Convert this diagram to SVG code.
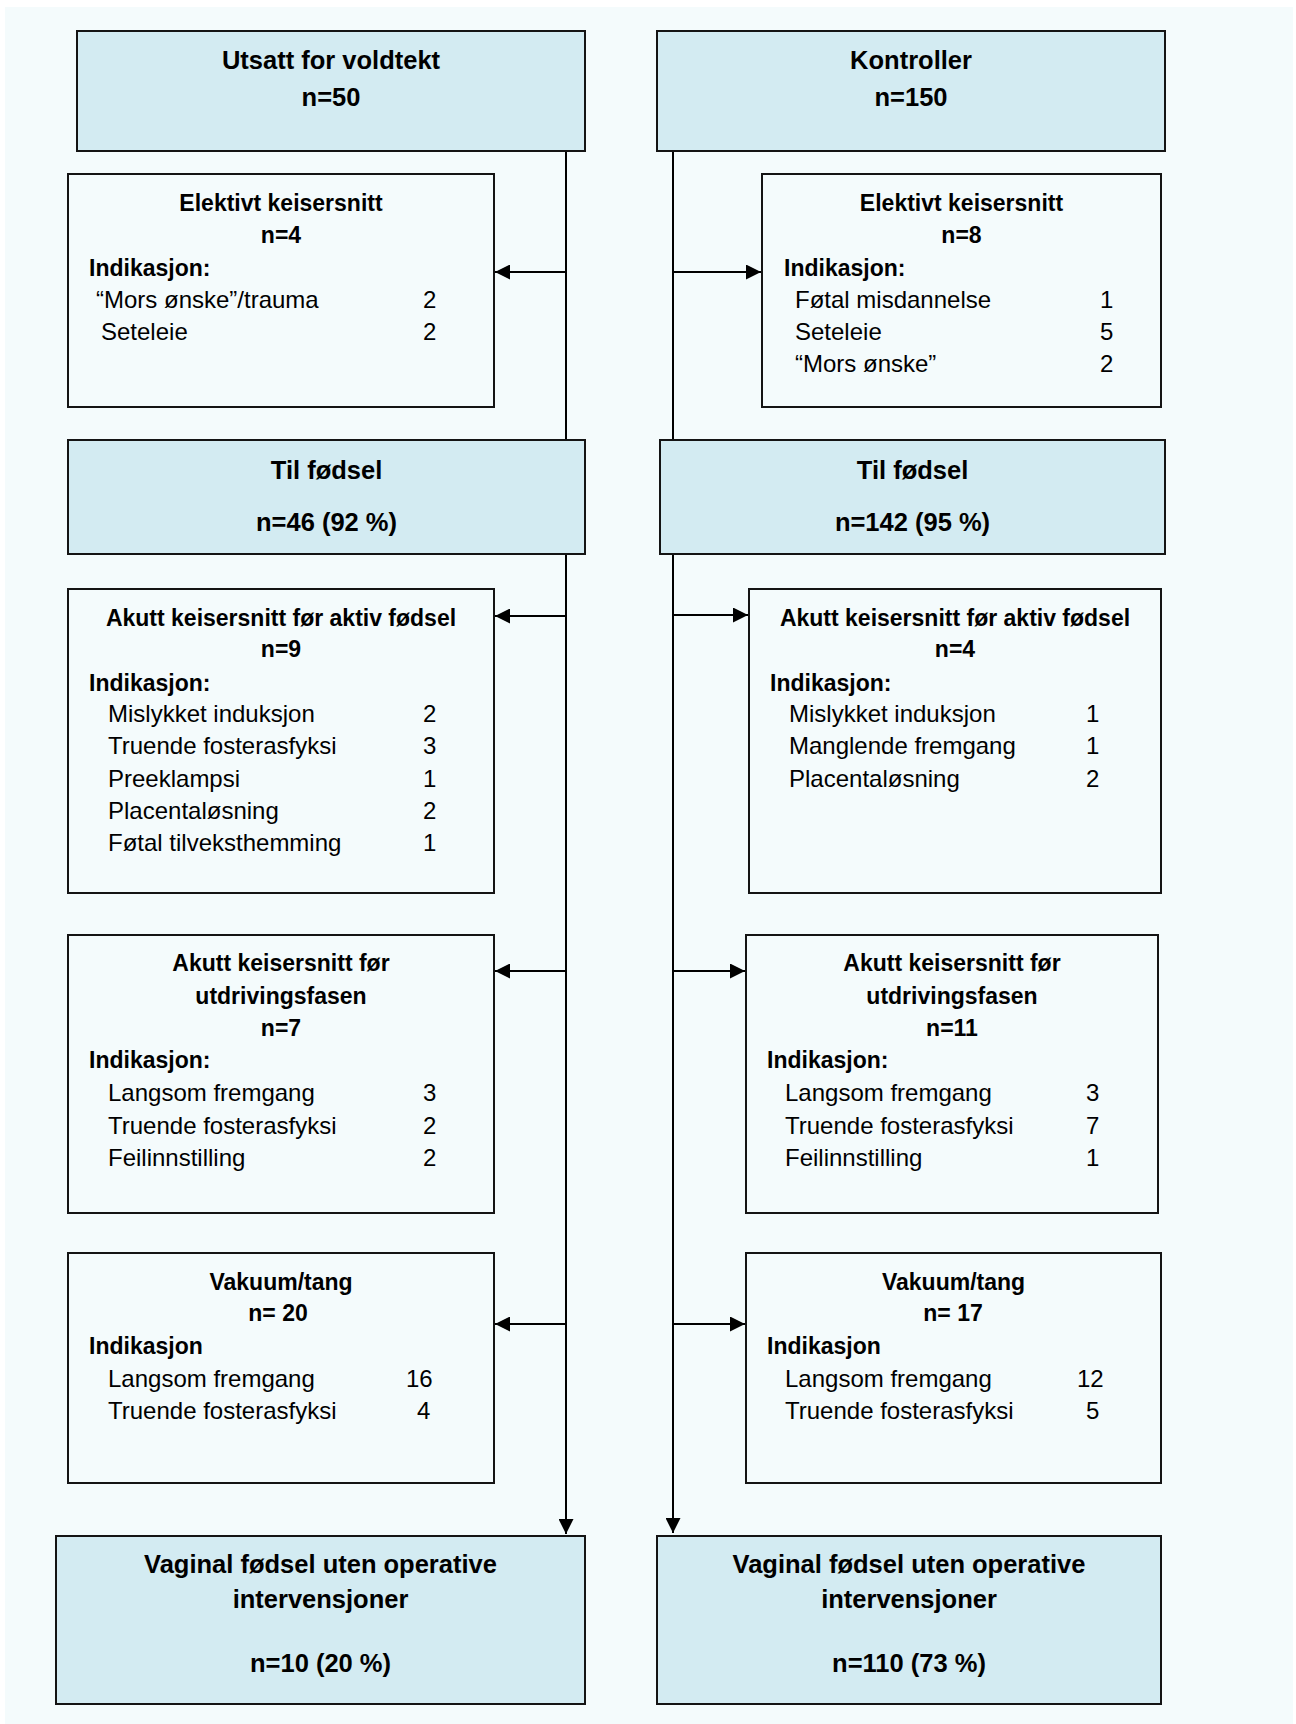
<svg xmlns="http://www.w3.org/2000/svg" width="1296" height="1724" viewBox="0 0 1296 1724">
  <style>
    text { font-family: "Liberation Sans", Arial, sans-serif; fill: #000; }
    .hd { font-size: 25.5px; font-weight: bold; text-anchor: middle; }
    .tt { font-size: 23px; font-weight: bold; text-anchor: middle; }
    .lb { font-size: 23px; font-weight: bold; }
    .it { font-size: 24px; }
    .main { fill: #d3ebf2; stroke: #141414; stroke-width: 2; }
    .sub { fill: #f4fbfc; stroke: #141414; stroke-width: 2; }
    .wire { stroke: #000; stroke-width: 2; fill: none; }
  </style>
  <defs>
    <marker id="head" markerUnits="userSpaceOnUse" markerWidth="16" markerHeight="15" refX="15" refY="7.5" orient="auto">
      <path d="M0,0 L15,7.5 L0,15 z" fill="#000"/>
    </marker>
  </defs>

  <rect x="0" y="0" width="1296" height="1724" fill="#ffffff"/>
  <rect x="5" y="7" width="1288" height="1717" fill="#f4fbfc"/>

  <!-- connectors: two trunks with side branches -->
  <g id="connectors">
    <line class="wire" x1="566" y1="151" x2="566" y2="1534" marker-end="url(#head)"/>
    <line class="wire" x1="673" y1="151" x2="673" y2="1533" marker-end="url(#head)"/>
    <line class="wire" x1="566" y1="272" x2="495" y2="272" marker-end="url(#head)"/>
    <line class="wire" x1="566" y1="616" x2="495" y2="616" marker-end="url(#head)"/>
    <line class="wire" x1="566" y1="971" x2="495" y2="971" marker-end="url(#head)"/>
    <line class="wire" x1="566" y1="1324" x2="495" y2="1324" marker-end="url(#head)"/>
    <line class="wire" x1="673" y1="272" x2="761" y2="272" marker-end="url(#head)"/>
    <line class="wire" x1="673" y1="615" x2="748" y2="615" marker-end="url(#head)"/>
    <line class="wire" x1="673" y1="971" x2="745" y2="971" marker-end="url(#head)"/>
    <line class="wire" x1="673" y1="1324" x2="745" y2="1324" marker-end="url(#head)"/>
  </g>

  <g id="exposed">
    <rect class="main" x="77" y="31" width="508" height="120"/>
    <text class="hd" x="331" y="69">Utsatt for voldtekt</text>
    <text class="hd" x="331" y="106">n=50</text>
  </g>

  <g id="controls">
    <rect class="main" x="657" y="31" width="508" height="120"/>
    <text class="hd" x="911" y="69">Kontroller</text>
    <text class="hd" x="911" y="106">n=150</text>
  </g>

  <g id="elective-left">
    <rect class="sub" x="68" y="174" width="426" height="233"/>
    <text class="tt" x="281" y="211">Elektivt keisersnitt</text>
    <text class="tt" x="281" y="243">n=4</text>
    <text class="lb" x="89" y="276">Indikasjon:</text>
    <text class="it" x="96" y="308">“Mors ønske”/trauma</text>
    <text class="it" x="423" y="308">2</text>
    <text class="it" x="101" y="340">Seteleie</text>
    <text class="it" x="423" y="340">2</text>
  </g>

  <g id="elective-right">
    <rect class="sub" x="762" y="174" width="399" height="233"/>
    <text class="tt" x="961.5" y="211">Elektivt keisersnitt</text>
    <text class="tt" x="961.5" y="243">n=8</text>
    <text class="lb" x="784" y="276">Indikasjon:</text>
    <text class="it" x="795" y="308">Føtal misdannelse</text>
    <text class="it" x="1100" y="308">1</text>
    <text class="it" x="795" y="340">Seteleie</text>
    <text class="it" x="1100" y="340">5</text>
    <text class="it" x="795" y="372">“Mors ønske”</text>
    <text class="it" x="1100" y="372">2</text>
  </g>

  <g id="labour-left">
    <rect class="main" x="68" y="440" width="517" height="114"/>
    <text class="hd" x="326.5" y="479">Til fødsel</text>
    <text class="hd" x="326.5" y="531">n=46 (92 %)</text>
  </g>

  <g id="labour-right">
    <rect class="main" x="660" y="440" width="505" height="114"/>
    <text class="hd" x="912.5" y="479">Til fødsel</text>
    <text class="hd" x="912.5" y="531">n=142 (95 %)</text>
  </g>

  <g id="acute-active-left">
    <rect class="sub" x="68" y="589" width="426" height="304"/>
    <text class="tt" x="281" y="626">Akutt keisersnitt før aktiv fødsel</text>
    <text class="tt" x="281" y="657">n=9</text>
    <text class="lb" x="89" y="691">Indikasjon:</text>
    <text class="it" x="108" y="722">Mislykket induksjon</text>
    <text class="it" x="423" y="722">2</text>
    <text class="it" x="108" y="754">Truende fosterasfyksi</text>
    <text class="it" x="423" y="754">3</text>
    <text class="it" x="108" y="787">Preeklampsi</text>
    <text class="it" x="423" y="787">1</text>
    <text class="it" x="108" y="819">Placentaløsning</text>
    <text class="it" x="423" y="819">2</text>
    <text class="it" x="108" y="851">Føtal tilveksthemming</text>
    <text class="it" x="423" y="851">1</text>
  </g>

  <g id="acute-active-right">
    <rect class="sub" x="749" y="589" width="412" height="304"/>
    <text class="tt" x="955" y="626">Akutt keisersnitt før aktiv fødsel</text>
    <text class="tt" x="955" y="657">n=4</text>
    <text class="lb" x="770" y="691">Indikasjon:</text>
    <text class="it" x="789" y="722">Mislykket induksjon</text>
    <text class="it" x="1086" y="722">1</text>
    <text class="it" x="789" y="754">Manglende fremgang</text>
    <text class="it" x="1086" y="754">1</text>
    <text class="it" x="789" y="787">Placentaløsning</text>
    <text class="it" x="1086" y="787">2</text>
  </g>

  <g id="acute-expulsion-left">
    <rect class="sub" x="68" y="935" width="426" height="278"/>
    <text class="tt" x="281" y="971">Akutt keisersnitt før</text>
    <text class="tt" x="281" y="1004">utdrivingsfasen</text>
    <text class="tt" x="281" y="1036">n=7</text>
    <text class="lb" x="89" y="1068">Indikasjon:</text>
    <text class="it" x="108" y="1101">Langsom fremgang</text>
    <text class="it" x="423" y="1101">3</text>
    <text class="it" x="108" y="1134">Truende fosterasfyksi</text>
    <text class="it" x="423" y="1134">2</text>
    <text class="it" x="108" y="1166">Feilinnstilling</text>
    <text class="it" x="423" y="1166">2</text>
  </g>

  <g id="acute-expulsion-right">
    <rect class="sub" x="746" y="935" width="412" height="278"/>
    <text class="tt" x="952" y="971">Akutt keisersnitt før</text>
    <text class="tt" x="952" y="1004">utdrivingsfasen</text>
    <text class="tt" x="952" y="1036">n=11</text>
    <text class="lb" x="767" y="1068">Indikasjon:</text>
    <text class="it" x="785" y="1101">Langsom fremgang</text>
    <text class="it" x="1086" y="1101">3</text>
    <text class="it" x="785" y="1134">Truende fosterasfyksi</text>
    <text class="it" x="1086" y="1134">7</text>
    <text class="it" x="785" y="1166">Feilinnstilling</text>
    <text class="it" x="1086" y="1166">1</text>
  </g>

  <g id="instrumental-left">
    <rect class="sub" x="68" y="1253" width="426" height="230"/>
    <text class="tt" x="281" y="1290">Vakuum/tang</text>
    <text class="tt" x="278" y="1321">n= 20</text>
    <text class="lb" x="89" y="1354">Indikasjon</text>
    <text class="it" x="108" y="1387">Langsom fremgang</text>
    <text class="it" x="406" y="1387">16</text>
    <text class="it" x="108" y="1419">Truende fosterasfyksi</text>
    <text class="it" x="417" y="1419">4</text>
  </g>

  <g id="instrumental-right">
    <rect class="sub" x="746" y="1253" width="415" height="230"/>
    <text class="tt" x="953.5" y="1290">Vakuum/tang</text>
    <text class="tt" x="953" y="1321">n= 17</text>
    <text class="lb" x="767" y="1354">Indikasjon</text>
    <text class="it" x="785" y="1387">Langsom fremgang</text>
    <text class="it" x="1077" y="1387">12</text>
    <text class="it" x="785" y="1419">Truende fosterasfyksi</text>
    <text class="it" x="1086" y="1419">5</text>
  </g>

  <g id="vaginal-left">
    <rect class="main" x="56" y="1536" width="529" height="168"/>
    <text class="hd" x="320.5" y="1573">Vaginal fødsel uten operative</text>
    <text class="hd" x="320.5" y="1608">intervensjoner</text>
    <text class="hd" x="320.5" y="1672">n=10 (20 %)</text>
  </g>

  <g id="vaginal-right">
    <rect class="main" x="657" y="1536" width="504" height="168"/>
    <text class="hd" x="909" y="1573">Vaginal fødsel uten operative</text>
    <text class="hd" x="909" y="1608">intervensjoner</text>
    <text class="hd" x="909" y="1672">n=110 (73 %)</text>
  </g>
</svg>
